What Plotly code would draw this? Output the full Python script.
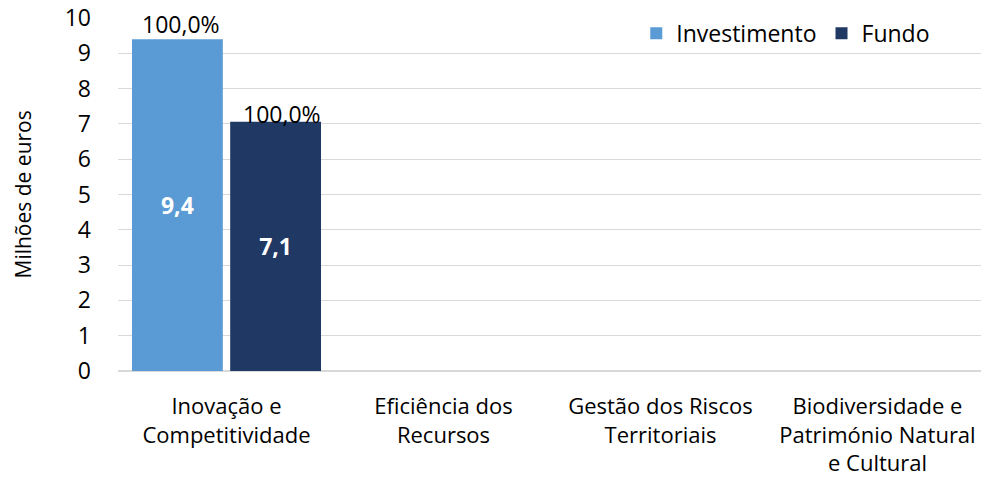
import plotly.graph_objects as go

categories = [
    "Inovação e<br>Competitividade",
    "Eficiência dos<br>Recursos",
    "Gestão dos Riscos<br>Territoriais",
    "Biodiversidade e<br>Património Natural<br>e Cultural",
]
investimento = [9.4, None, None, None]
fundo = [7.06, None, None, None]
pct_investimento = ["100,0%", None, None, None]
pct_fundo = ["100,0%", None, None, None]
y_ticks = list(range(0, 11))

FONT = "Open Sans"
SIZE = 23
TXT = "#000000"

fig = go.Figure()
fig.add_bar(
    name="Investimento", x=categories, y=investimento,
    marker=dict(color="#5B9BD5", line=dict(width=0)),
    texttemplate="<b>%{y:.1f}</b>", textposition="inside",
    insidetextanchor="middle", textangle=0,
    textfont=dict(color="white", size=SIZE, family=FONT),
    hoverinfo="skip",
)
fig.add_bar(
    name="Fundo", x=categories, y=fundo,
    marker=dict(color="#203864", line=dict(width=0)),
    texttemplate="<b>%{y:.1f}</b>", textposition="inside",
    insidetextanchor="middle", textangle=0,
    textfont=dict(color="white", size=SIZE, family=FONT),
    hoverinfo="skip",
)

annotations = []
for i, lab in enumerate(pct_investimento):
    if lab:
        annotations.append(dict(x=categories[i], y=investimento[i], xref="x", yref="y",
                                text=lab, showarrow=False, yanchor="bottom", xshift=-46, yshift=-3,
                                font=dict(size=SIZE, family=FONT, color=TXT)))
for i, lab in enumerate(pct_fundo):
    if lab:
        annotations.append(dict(x=categories[i], y=fundo[i], xref="x", yref="y",
                                text=lab, showarrow=False, yanchor="bottom", xshift=55, yshift=-10,
                                font=dict(size=SIZE, family=FONT, color=TXT)))
annotations.append(dict(x=0, y=0.5, xref="paper", yref="paper", text="Milhões de euros",
                        textangle=-90, showarrow=False, xanchor="center", yanchor="middle",
                        xshift=-96, font=dict(size=21, family=FONT, color=TXT)))

fig.update_layout(
    width=981, height=481, autosize=False,
    margin=dict(l=118, r=0, t=18, b=110, autoexpand=False),
    plot_bgcolor="white", paper_bgcolor="white",
    separators=",.",
    barmode="group", bargap=0.095, bargroupgap=0.075,
    font=dict(family=FONT, size=SIZE, color=TXT),
    showlegend=True,
    legend=dict(orientation="h", x=0.947, xanchor="right", y=0.957, yanchor="middle",
                font=dict(size=SIZE, family=FONT, color=TXT), bgcolor="rgba(0,0,0,0)",
                traceorder="normal"),
    annotations=annotations,
    xaxis=dict(type="category", range=[-0.5, 3.477], showgrid=False, showline=False,
               ticks="", tickfont=dict(size=22, family=FONT, color=TXT), automargin=False,
               ticklabelstandoff=20, fixedrange=True),
    yaxis=dict(range=[0, 10], tickvals=y_ticks, showgrid=True, gridcolor="#D9D9D9", gridwidth=1,
               zeroline=True, zerolinecolor="#D9D9D9", zerolinewidth=2, showline=False,
               ticks="", tickfont=dict(size=SIZE, family=FONT, color=TXT), automargin=False,
               ticklabelstandoff=26, ticklabeloverflow="allow", fixedrange=True),
)

fig.write_html(
    "out.html",
    config={"displayModeBar": False, "staticPlot": True},
    post_script="document.body.style.margin='0';document.body.style.overflow='hidden';",
)
